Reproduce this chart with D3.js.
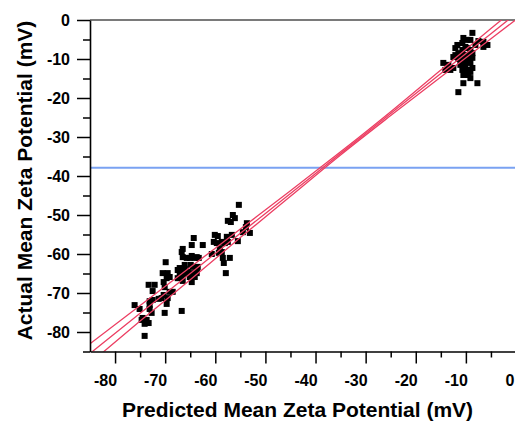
<!DOCTYPE html>
<html>
<head>
<meta charset="utf-8">
<script src="https://cdn.jsdelivr.net/npm/d3@7"></script>
<style>
  html, body { margin: 0; padding: 0; background: #fff; }
  svg { display: block; font-family: "Liberation Sans", Arial, sans-serif; }
</style>
</head>
<body>
<svg id="chart" width="515" height="423"></svg>
<script>
// Predicted vs. actual mean zeta potential (mV), one entry per sample
const predicted = [
  -55.3, -56.5, -56.1, -56.9, -53.7, -53.1, -54.5, -53.9, -57.5, -59.5,
  -57.7, -56.7, -60.1, -64.3, -58.1, -57.5, -55.5, -58.7, -60.3, -59.7,
  -64.7, -62.5, -59.1, -58.7, -66.5, -66.7, -60.7, -59.3, -64.7, -63.7,
  -66.5, -65.7, -65.1, -63.3, -58.5, -57.1, -69.9, -58.3, -66.1, -64.9,
  -64.5, -67.1, -66.1, -63.7, -70.5, -69.5, -66.7, -65.5, -64.5, -63.7,
  -57.9, -69.1, -66.7, -65.1, -64.1, -66.5, -64.7, -73.3, -72.1, -70.1,
  -72.5, -69.1, -70.3, -73.1, -72.5, -71.3, -69.5, -70.7, -76.1, -73.1,
  -69.7, -75.1, -73.1, -72.7, -70.1, -66.7, -74.5, -74.7, -73.7, -74.1,
  -73.3, -74.1, -67.5, -67.5, -69.7, -70.3, -67.1, -65.7, -68.5, -63.5,
  -64.1,
  -8.7, -10.5, -9.7, -10.7, -7.5, -6.5, -5.7, -6.5, -11.7, -12.1,
  -10.7, -9.7, -9.1, -12.1, -11.5, -10.5, -9.5, -8.7, -11.5, -10.5,
  -9.7, -8.7, -12.5, -11.1, -10.1, -9.1, -14.5, -13.5, -14.1, -13.1,
  -12.5, -10.7, -9.7, -8.7, -10.5, -9.5, -9.9, -10.5, -7.7, -11.5,
  -9.1, -8.1, -9.1, -10.1, -11.1, -9.1
];
const actual = [
  -47.4, -50.0, -50.8, -51.8, -52.1, -54.6, -54.4, -53.1, -51.5, -55.4,
  -55.6, -55.1, -55.1, -55.9, -57.2, -56.9, -56.7, -56.9, -56.9, -57.2,
  -57.7, -57.7, -58.5, -59.5, -58.7, -59.5, -60.0, -59.7, -60.5, -60.8,
  -60.8, -61.0, -61.0, -61.0, -61.0, -61.0, -62.1, -62.3, -62.8, -62.8,
  -63.3, -63.6, -63.8, -63.8, -64.9, -64.9, -64.6, -64.6, -64.9, -64.9,
  -64.9, -65.9, -65.9, -65.9, -65.9, -66.9, -67.2, -67.9, -67.9, -68.5,
  -69.5, -69.7, -70.5, -72.1, -71.8, -71.5, -71.3, -71.3, -73.1, -73.1,
  -72.8, -74.1, -74.1, -75.1, -75.1, -74.6, -76.4, -76.9, -76.9, -77.9,
  -77.7, -81.0, -64.1, -66.2, -66.2, -67.2, -65.1, -65.1, -69.7, -63.3,
  -61.0,
  -3.3, -4.6, -5.1, -5.9, -5.4, -5.6, -6.4, -6.9, -6.4, -7.2,
  -7.7, -7.2, -7.7, -9.0, -8.5, -9.0, -9.0, -8.5, -10.0, -10.3,
  -10.3, -9.7, -9.5, -11.5, -11.5, -11.0, -11.0, -11.5, -12.8, -12.8,
  -12.3, -12.8, -12.8, -12.3, -14.1, -14.1, -13.6, -16.2, -16.2, -18.5,
  -14.9, -6.4, -5.1, -6.9, -9.5, -13.3
];

// Regression fit and its confidence limits, sampled along the predicted axis
const bandX     = [-85, -75, -65, -55, -45, -35, -25, -15, -5, 0];
const fitY      = [-85.5, -75.2, -65.0, -54.7, -44.5, -34.2, -24.0, -13.7, -3.5, 1.6];
const upperY    = [-83.0, -73.2, -63.4, -53.6, -43.8, -33.8, -23.5, -12.8, -2.2, 3.1];
const lowerY    = [-88.0, -77.2, -66.6, -55.8, -45.2, -34.6, -24.5, -14.6, -4.8, 0.1];

// Horizontal reference level (mV)
const referenceLevel = [-37.9];

// Axis ticks
const xTicks = [-80, -70, -60, -50, -40, -30, -20, -10, 0];
const xTickLabels = ["-80", "-70", "-60", "-50", "-40", "-30", "-20", "-10", "0"];
const xMinorTicks = [-75, -65, -55, -45, -35, -25, -15, -5];
const yTicks = [0, -10, -20, -30, -40, -50, -60, -70, -80];
const yTickLabels = ["0", "-10", "-20", "-30", "-40", "-50", "-60", "-70", "-80"];
const yMinorTicks = [-5, -15, -25, -35, -45, -55, -65, -75, -85];

const xTitle = "Predicted Mean Zeta Potential (mV)";
const yTitle = "Actual Mean Zeta Potential (mV)";

const W = 515;
const svg = d3.select("#chart");
const x = d3.scaleLinear().domain([-85, 0]).range([90, 516]);
const y = d3.scaleLinear().domain([-85, 0]).range([351.5, 20]);

const [x0, x1] = x.range();
const [yb, yt] = y.range();

svg.append("defs").append("clipPath").attr("id", "plotClip")
  .append("rect")
  .attr("x", x0).attr("y", yt)
  .attr("width", x1 - x0).attr("height", yb - yt);

// Top frame line
svg.append("line")
  .attr("x1", x0).attr("x2", x1)
  .attr("y1", yt).attr("y2", yt)
  .attr("stroke", "#7a7a7a").attr("stroke-width", 2);

const plot = svg.append("g").attr("clip-path", "url(#plotClip)");

// Reference level
plot.selectAll("line.ref").data(referenceLevel).join("line")
  .attr("class", "ref")
  .attr("x1", x0).attr("x2", x1)
  .attr("y1", d => y(d)).attr("y2", d => y(d))
  .attr("stroke", "#7aa2f2").attr("stroke-width", 2);

// Samples
const size = 6;
plot.selectAll("rect.pt").data(predicted.map((p, i) => [p, actual[i]])).join("rect")
  .attr("class", "pt")
  .attr("x", d => x(d[0]) - size / 2)
  .attr("y", d => y(d[1]) - size / 2)
  .attr("width", size).attr("height", size)
  .attr("fill", "#000");

// Fit line and confidence limits
const line = d3.line()
  .x((d, i) => x(bandX[i]))
  .y(d => y(d))
  .curve(d3.curveMonotoneX);

[upperY, fitY, lowerY].forEach(series => {
  plot.append("path")
    .attr("d", line(series))
    .attr("fill", "none")
    .attr("stroke", "#ec3f63")
    .attr("stroke-width", 1.3);
});

// Axes
const axisStyle = g => {
  g.selectAll("path.domain").attr("stroke", "#000").attr("stroke-width", 1.6);
  g.selectAll(".tick line").attr("stroke", "#000").attr("stroke-width", 1.5);
  g.selectAll("text")
    .attr("fill", "#000")
    .attr("font-size", 16)
    .attr("font-weight", "bold")
    .attr("font-family", "'Liberation Sans', Arial, sans-serif");
};

const xAxis = svg.append("g")
  .attr("transform", `translate(0,${yb})`)
  .call(d3.axisBottom(x).tickValues(xTicks)
    .tickFormat((d, i) => xTickLabels[i])
    .tickSize(12).tickPadding(11).tickSizeOuter(0))
  .call(axisStyle);
// Labels sit to the left of their ticks; keep the last one inside the page
xAxis.selectAll(".tick text")
  .attr("text-anchor", "end")
  .attr("dx", d => Math.min(1.5, W - 1 - x(d)));

svg.append("g")
  .attr("transform", `translate(0,${yb})`)
  .call(d3.axisBottom(x).tickValues(xMinorTicks).tickFormat("").tickSize(6))
  .call(g => g.select("path.domain").remove())
  .call(axisStyle);

svg.append("g")
  .attr("transform", `translate(${x0},0)`)
  .call(d3.axisLeft(y).tickValues(yTicks)
    .tickFormat((d, i) => yTickLabels[i])
    .tickSize(13).tickPadding(7).tickSizeOuter(0))
  .call(axisStyle);

svg.append("g")
  .attr("transform", `translate(${x0},0)`)
  .call(d3.axisLeft(y).tickValues(yMinorTicks).tickFormat("").tickSize(7))
  .call(g => g.select("path.domain").remove())
  .call(axisStyle);

// Axis titles
svg.append("text")
  .attr("x", 297.5).attr("y", 417)
  .attr("text-anchor", "middle")
  .attr("font-size", 21).attr("font-weight", "bold")
  .attr("fill", "#000")
  .text(xTitle);

svg.append("text")
  .attr("transform", "translate(32,180.5) rotate(-90)")
  .attr("text-anchor", "middle")
  .attr("font-size", 21).attr("font-weight", "bold")
  .attr("fill", "#000")
  .text(yTitle);
</script>
</body>
</html>
